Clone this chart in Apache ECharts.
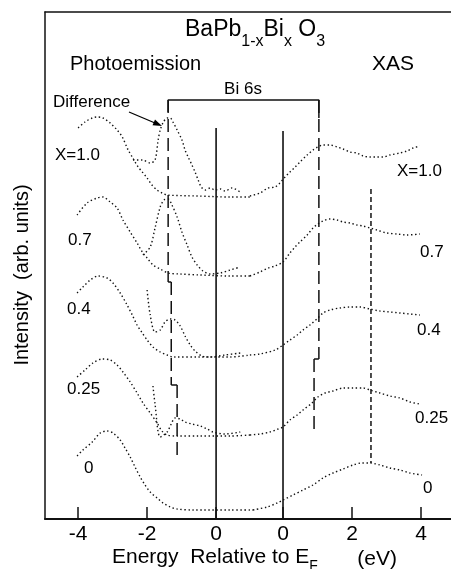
<!DOCTYPE html>
<html lang="en">
<head>
<meta charset="UTF-8">
<title>BaPb1-xBixO3 photoemission / XAS</title>
<script src="https://cdn.jsdelivr.net/npm/echarts@6.0.0/dist/echarts.min.js"></script>
<style>
    html, body { margin: 0; padding: 0; background: #fff; }
    #main { width: 451px; height: 569px; }
</style>
</head>
<body>
<div id="main"></div>
<script>
    // [energy relative to EF (eV), intensity (arb. units, spectra offset)]
    // photoemission, main spectra
    var pe10 = [[-4.00,78.2],[-3.80,79.4],[-3.59,80.2],[-3.45,80.4],[-3.28,80.2],[-3.07,79.2],[-2.87,77.8],[-2.72,76.4],[-2.55,73.8],[-2.43,72.4],[-2.35,71.4],[-2.26,70.4],[-2.14,69.4],[-2.00,68.2],[-1.86,66.8],[-1.71,65.8],[-1.57,65.2],[-1.42,64.8],[-0.55,64.6],[0.41,64.4],[0.99,64.4]];
    var pe07 = [[-4.03,60.8],[-3.74,63.2],[-3.45,64.2],[-3.28,64.4],[-3.07,63.4],[-2.87,62.2],[-2.70,59.8],[-2.49,57.4],[-2.29,55.2],[-2.14,53.4],[-2.00,52.2],[-1.83,50.8],[-1.62,50.0],[-1.39,49.2],[-1.04,49.0],[-0.46,48.8],[0.41,48.6],[0.99,48.6]];
    var pe04 = [[-4.03,45.2],[-3.86,46.4],[-3.65,47.8],[-3.42,48.6],[-3.16,48.2],[-2.99,47.2],[-2.78,45.2],[-2.58,42.8],[-2.43,40.8],[-2.29,38.8],[-2.14,37.2],[-2.00,35.8],[-1.83,34.4],[-1.62,33.4],[-1.42,32.8],[-1.25,32.4],[-0.46,32.4],[0.41,32.4],[0.99,32.8]];
    var pe025 = [[-4.03,28.4],[-3.80,29.8],[-3.57,31.2],[-3.30,32.0],[-3.07,31.8],[-2.87,30.8],[-2.70,29.4],[-2.49,27.4],[-2.29,25.2],[-2.12,23.2],[-1.91,21.2],[-1.71,19.2],[-1.57,17.6],[-1.42,16.8],[-1.13,16.6],[-0.46,16.6],[0.41,16.6],[0.99,16.8]];
    var pe00 = [[-4.03,12.6],[-3.86,13.8],[-3.59,15.4],[-3.36,17.2],[-3.16,17.6],[-2.99,17.2],[-2.78,15.8],[-2.64,14.2],[-2.49,12.4],[-2.35,10.4],[-2.20,8.4],[-2.06,6.8],[-1.91,5.4],[-1.71,4.2],[-1.54,3.2],[-1.33,2.4],[-1.13,2.0],[-0.67,1.8],[0.41,1.8],[1.07,1.8]];

    // photoemission, Bi 6s difference spectra
    var df10 = [[-2.41,71.8],[-2.14,71.8],[-1.91,71.2],[-1.77,71.8],[-1.68,75.8],[-1.62,77.8],[-1.54,79.2],[-1.42,80.2],[-1.33,80.2],[-1.25,79.4],[-1.13,77.8],[-0.99,75.8],[-0.90,73.8],[-0.81,72.4],[-0.70,70.8],[-0.61,69.4],[-0.52,67.8],[-0.43,66.4],[-0.32,65.8],[-0.17,66.2],[-0.03,65.8],[0.12,66.0],[0.26,65.6],[0.46,66.2],[0.70,65.4]];
    var df07 = [[-2.12,52.8],[-1.91,54.4],[-1.77,58.2],[-1.62,62.4],[-1.51,63.8],[-1.39,64.0],[-1.28,62.8],[-1.13,60.4],[-0.99,57.4],[-0.84,54.8],[-0.70,52.4],[-0.55,50.8],[-0.38,49.6],[-0.17,49.0],[0.12,49.2],[0.41,49.8],[0.70,50.4]];
    var df04 = [[-2.00,45.8],[-1.91,40.8],[-1.77,37.4],[-1.62,37.8],[-1.48,39.4],[-1.33,40.0],[-1.19,39.8],[-1.04,38.6],[-0.90,36.6],[-0.75,34.8],[-0.61,33.6],[-0.41,32.6],[-0.17,32.4],[0.26,32.8],[0.70,33.2]];
    var df025 = [[-1.83,26.6],[-1.77,23.0],[-1.62,16.4],[-1.42,17.4],[-1.30,19.0],[-1.19,20.2],[-1.04,20.0],[-0.90,19.4],[-0.70,19.0],[-0.46,18.6],[-0.26,18.0],[-0.09,17.4],[0.26,17.0],[0.70,17.4]];

    // XAS spectra
    var xas10 = [[-0.96,64.6],[-0.67,65.2],[-0.43,66.2],[-0.23,66.4],[-0.09,67.2],[0.06,68.4],[0.20,69.4],[0.35,70.4],[0.49,71.4],[0.70,72.8],[0.87,73.8],[1.01,74.4],[1.16,74.8],[1.36,74.8],[1.57,74.4],[1.74,74.0],[1.94,73.4],[2.14,73.2],[2.32,72.6],[2.52,72.4],[2.72,72.4],[2.90,72.4],[3.10,72.8],[3.39,73.2],[3.59,73.6],[3.77,74.2],[3.97,74.6]];
    var xas07 = [[-0.96,48.6],[-0.67,49.4],[-0.43,50.2],[-0.23,50.6],[0.00,51.4],[0.20,53.2],[0.35,54.4],[0.49,55.4],[0.70,56.8],[0.87,58.2],[1.01,59.0],[1.16,59.6],[1.36,60.0],[1.57,59.8],[1.74,59.4],[1.94,59.2],[2.14,58.8],[2.32,58.6],[2.52,58.2],[2.72,57.8],[3.01,57.2],[3.30,57.0],[3.59,56.8],[3.97,57.0]];
    var xas04 = [[-0.96,32.8],[-0.67,33.0],[-0.23,33.8],[0.00,34.8],[0.20,35.8],[0.41,36.8],[0.58,37.8],[0.78,38.8],[1.01,40.2],[1.16,41.2],[1.36,41.8],[1.65,42.2],[1.94,42.4],[2.23,42.4],[2.52,42.0],[2.81,41.6],[3.10,41.4],[3.39,41.2],[3.68,41.0],[3.97,40.8]];
    var xas025 = [[-0.96,16.8],[-0.67,17.0],[-0.38,17.4],[-0.14,18.0],[0.00,18.4],[0.20,19.8],[0.41,20.8],[0.58,21.8],[0.84,23.2],[1.01,24.4],[1.22,25.2],[1.45,25.6],[1.74,26.2],[2.03,26.2],[2.32,26.2],[2.52,25.8],[2.81,25.2],[3.10,24.6],[3.39,24.2],[3.68,23.4],[3.97,23.0]];
    var xas00 = [[-0.87,1.8],[-0.46,2.4],[-0.17,3.2],[0.00,3.8],[0.29,4.8],[0.58,5.8],[0.87,6.8],[1.16,8.2],[1.45,9.2],[1.74,10.0],[2.03,10.8],[2.29,11.2],[2.52,11.2],[2.81,10.8],[3.10,10.2],[3.39,9.8],[3.68,9.2],[4.03,8.8]];

    // Bi 6s peak markers: photoemission (left) and XAS (right), stepping with x
    var pePeakSteps = [[[-1.39,83.8],[-1.39,47.4]], [[-1.30,47.4],[-1.30,26.8]], [[-1.13,26.8],[-1.13,12.6]]];
    var xasPeakSteps = [[[1.04,83.8],[1.04,32.0]], [[0.90,32.0],[0.90,17.2]]];
    var xasMainPeak = [[2.55,66.0],[2.55,11.2]];
    var bracketTop = 83.8;

    var peTicks = [-4, -2, 0];
    var xasTicks = [0, 2, 4];
    var leftLabels = ['X=1.0', '0.7', '0.4', '0.25', '0'];
    var rightLabels = ['X=1.0', '0.7', '0.4', '0.25', '0'];

    // the XAS zero sits 1.94 eV to the right of the photoemission zero
    var xasOffset = 1.94;
    var peMin = -4.96, peMax = 6.81;
    var FONT = '"Liberation Sans", Arial, sans-serif';

    var chart = echarts.init(document.getElementById('main'));

    function dotted(data, xi, yi) {
        return {
            type: 'line', xAxisIndex: xi, yAxisIndex: yi, data: data,
            showSymbol: false, smooth: 0.3, silent: true,
            lineStyle: { color: '#111', width: 1.4, type: [1.4, 2.6] }
        };
    }

    function rule(data, xi, yi, width, dash) {
        return {
            type: 'line', xAxisIndex: xi, yAxisIndex: yi, data: data,
            showSymbol: false, silent: true,
            lineStyle: { color: '#111', width: width, type: dash || 'solid' }
        };
    }

    var series = [];
    [pe10, pe07, pe04, pe025, pe00, df10, df07, df04, df025].forEach(function (d) {
        series.push(dotted(d, 0, 0));
    });
    [xas10, xas07, xas04, xas025, xas00].forEach(function (d) {
        series.push(dotted(d, 2, 1));
    });

    // Fermi level lines of both panels
    series.push(rule([[0, 78.2], [0, 0]], 0, 0, 1.6));
    series.push(rule([[0, 77.6], [0, 0]], 2, 1, 1.6));

    // dashed peak markers with their small steps
    pePeakSteps.forEach(function (s, i) {
        series.push(rule(s, 0, 0, 1.5, [13, 6]));
        if (i > 0) series.push(rule([pePeakSteps[i - 1][1], s[0]], 0, 0, 1.5));
    });
    xasPeakSteps.forEach(function (s, i) {
        series.push(rule(s, 2, 1, 1.5, [13, 6]));
        if (i > 0) series.push(rule([xasPeakSteps[i - 1][1], s[0]], 2, 1, 1.5));
    });
    series.push(rule(xasMainPeak, 2, 1, 1.5, [5, 3]));

    // Bi 6s bracket, drawn in XAS coordinates
    var bl = pePeakSteps[0][0][0] - xasOffset, br = xasPeakSteps[0][0][0];
    series.push(rule([[bl, bracketTop - 2.4], [bl, bracketTop], [br, bracketTop], [br, bracketTop - 3.6]], 2, 1, 1.5));

    function txt(t, x, y, size, align) {
        return {
            type: 'text', x: x, y: y, silent: true,
            style: {
                text: t, fill: '#000', align: align || 'left', verticalAlign: 'middle',
                font: size + 'px ' + FONT
            }
        };
    }

    var leftPos = [[55, 155], [68, 240], [67, 309], [67, 389], [84, 468]];
    var rightPos = [[397, 171], [420, 252], [417, 330], [415, 418], [423, 488]];

    var graphics = [
        {
            type: 'text', x: 185, y: 18, silent: true,
            style: {
                text: '{m|BaPb}{s|1-x}{m|Bi}{s|x}{m| O}{s|3}',
                fill: '#000', verticalAlign: 'top',
                rich: {
                    m: { fontSize: 23, fontFamily: FONT, lineHeight: 26, verticalAlign: 'top', fill: '#000' },
                    s: { fontSize: 16, fontFamily: FONT, lineHeight: 16, padding: [16, 0, 0, 0], verticalAlign: 'top', fill: '#000' }
                }
            }
        },
        txt('Photoemission', 70, 64, 20),
        txt('XAS', 372, 64, 21),
        txt('Bi 6s', 243, 89, 17, 'center'),
        txt('Difference', 53, 102, 17),
        {
            type: 'text', x: 112, y: 559, silent: true,
            style: {
                text: '{m|Energy  Relative to E}{s|F}',
                fill: '#000', verticalAlign: 'middle',
                rich: {
                    m: { fontSize: 21, fontFamily: FONT, lineHeight: 24, verticalAlign: 'top', fill: '#000' },
                    s: { fontSize: 14, fontFamily: FONT, lineHeight: 14, padding: [12, 0, 0, 0], verticalAlign: 'top', fill: '#000' }
                }
            }
        },
        txt('(eV)', 397, 559, 21, 'right'),
        {
            type: 'text', x: 22, y: 275, rotation: Math.PI / 2, silent: true,
            style: {
                text: 'Intensity  (arb. units)', fill: '#000', align: 'center', verticalAlign: 'middle',
                font: '20px ' + FONT
            }
        },
        // arrow from "Difference" to the difference spectrum
        {
            type: 'line', silent: true,
            shape: { x1: 129, y1: 112, x2: 155, y2: 123 },
            style: { stroke: '#000', lineWidth: 1.3 }
        },
        {
            type: 'polygon', silent: true,
            shape: { points: [[162, 126], [152.5, 125.2], [155, 119.6]] },
            style: { fill: '#000' }
        }
    ];
    leftLabels.forEach(function (t, i) { graphics.push(txt(t, leftPos[i][0], leftPos[i][1], 17)); });
    rightLabels.forEach(function (t, i) { graphics.push(txt(t, rightPos[i][0], rightPos[i][1], 17)); });

    var gridBox = { left: 45, right: 0, top: 12, bottom: 50, outerBoundsMode: 'none', containLabel: false };
    var yBase = { type: 'value', min: 0, max: 101.4, axisTick: { show: false }, axisLabel: { show: false }, splitLine: { show: false } };
    var labelStyle = { fontSize: 21, fontFamily: FONT, color: '#000', margin: 5 };

    var option = {
        animation: false,
        backgroundColor: '#fff',
        grid: [Object.assign({}, gridBox), Object.assign({}, gridBox)],
        xAxis: [
            {
                gridIndex: 0, type: 'value', position: 'bottom', min: peMin, max: peMax,
                axisLine: { show: true, onZero: false, lineStyle: { color: '#111', width: 2 } },
                axisTick: { show: true, inside: true, length: 12, customValues: peTicks, lineStyle: { color: '#111', width: 1.5 } },
                axisLabel: Object.assign({ customValues: peTicks }, labelStyle),
                splitLine: { show: false }
            },
            {
                gridIndex: 0, type: 'value', position: 'top', min: peMin, max: peMax,
                axisLine: { show: true, onZero: false, lineStyle: { color: '#111', width: 1.5 } },
                axisTick: { show: false }, axisLabel: { show: false }, splitLine: { show: false }
            },
            {
                gridIndex: 1, type: 'value', position: 'bottom', min: peMin - xasOffset, max: peMax - xasOffset,
                axisLine: { show: false, onZero: false },
                axisTick: { show: true, inside: true, length: 12, customValues: xasTicks, lineStyle: { color: '#111', width: 1.5 } },
                axisLabel: Object.assign({ customValues: xasTicks }, labelStyle),
                splitLine: { show: false }
            }
        ],
        yAxis: [
            Object.assign({ gridIndex: 0, position: 'left', axisLine: { show: true, onZero: false, lineStyle: { color: '#111', width: 1.5 } } }, yBase),
            Object.assign({ gridIndex: 1, show: false }, yBase)
        ],
        series: series,
        graphic: graphics
    };

    chart.setOption(option);
</script>
</body>
</html>
